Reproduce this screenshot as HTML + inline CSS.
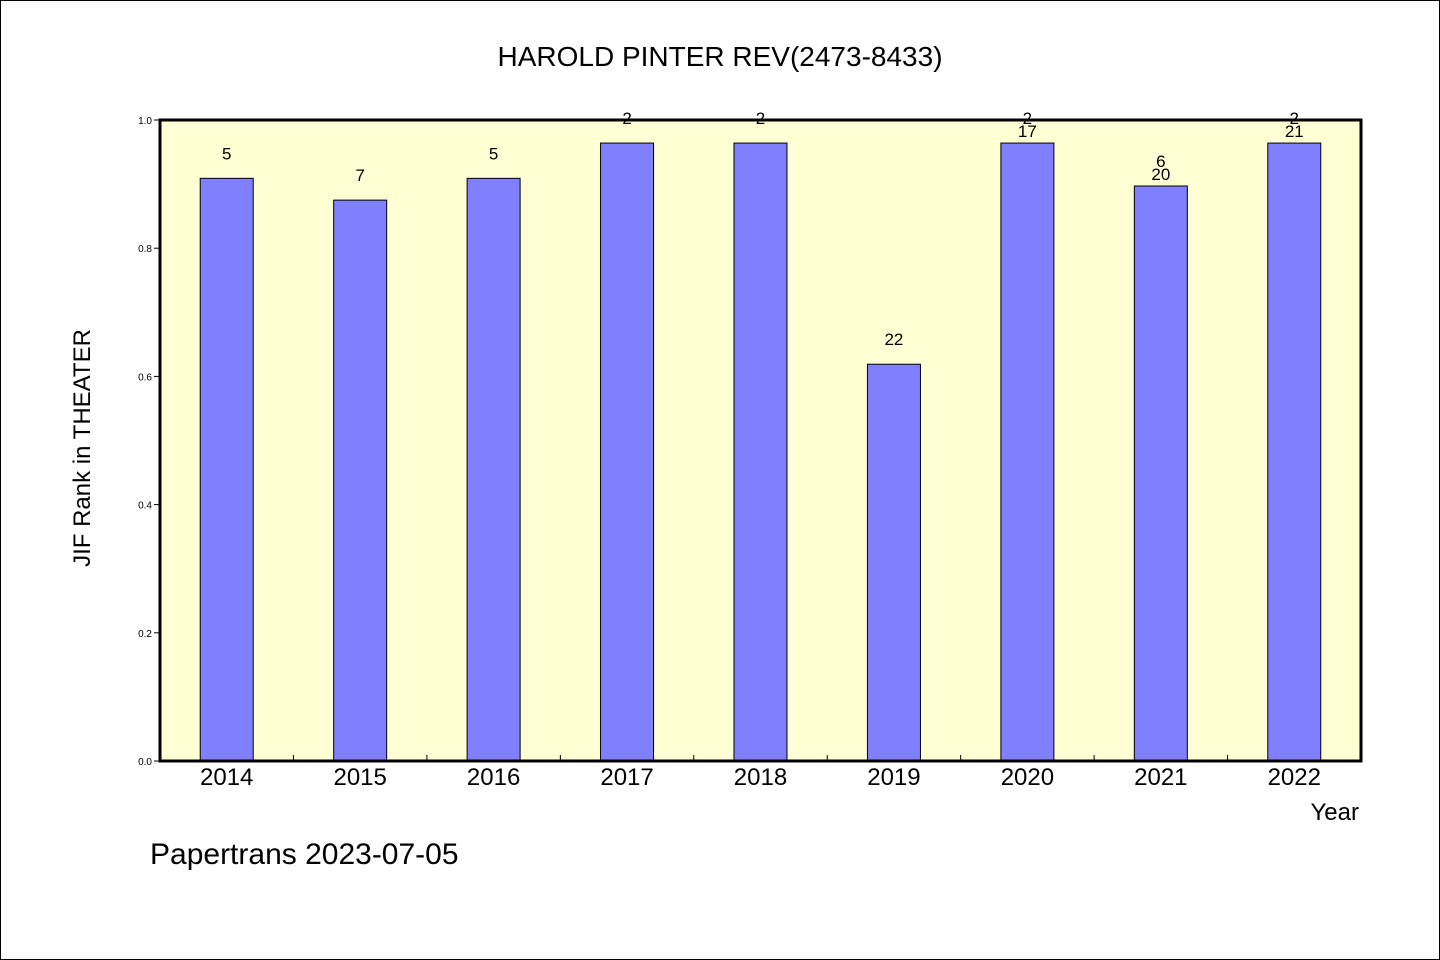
<!DOCTYPE html>
<html><head><meta charset="utf-8"><style>
body{margin:0;background:#fff}
svg{display:block;font-family:"WenQuanYi Zen Hei","Liberation Sans",sans-serif}
</style></head><body>
<svg width="1440" height="960" xmlns="http://www.w3.org/2000/svg" id="chart">
<rect x="0.5" y="0.5" width="1439" height="959" fill="#fff" stroke="#000"/>
<text x="720" y="66" text-anchor="middle" font-size="28">HAROLD PINTER REV(2473-8433)</text>
<rect x="160" y="120" width="1201" height="641" fill="#ffffd4"/>
<g id="marks"></g>
<rect x="160" y="120" width="1201" height="641" fill="none" stroke="#000" stroke-width="3"/>
<text transform="translate(90,448) rotate(-90)" text-anchor="middle" font-size="24">JIF Rank in THEATER</text>
<text x="1359" y="820" text-anchor="end" font-size="24">Year</text>
<text x="150" y="864" font-size="30">Papertrans 2023-07-05</text>
</svg>
<script>
const categories=["2014","2015","2016","2017","2018","2019","2020","2021","2022"];
const values=[0.909,0.875,0.909,0.964,0.964,0.619,0.964,0.897,0.964];
const labels1=["5","7","5","2","2","22","2","6","2"];
const labels2=["","","","","","","17","20","21"];
const yTicks=[0,0.2,0.4,0.6,0.8,1.0];
const yTickLabels=["0.0","0.2","0.4","0.6","0.8","1.0"];
const NS="http://www.w3.org/2000/svg";
const X0=160,X1=1361,Y0=761,Y1=120;
const band=(X1-X0)/categories.length;
const xs=i=>X0+band*(i+0.5);
const ys=v=>Y0-(Y0-Y1)*v;
const g=document.getElementById('marks');
function mk(t,a){const e=document.createElementNS(NS,t);for(const k in a)e.setAttribute(k,a[k]);g.appendChild(e);return e;}
yTicks.forEach((v,i)=>{
 const l=mk('line',{x1:X0-6,x2:X0,y1:ys(v),y2:ys(v),stroke:'#000'});
 
 
 const t=mk('text',{x:X0-8,y:ys(v)+4,'text-anchor':'end','font-size':10});
 t.textContent=yTickLabels[i];
 
 
});
categories.forEach((c,i)=>{
 if(i>0){const tk=mk('line',{x1:X0+band*i,x2:X0+band*i,y1:Y0,y2:Y0-6,stroke:'#000'});
 
 }
 const bw=53,top=ys(values[i]);
 const b=mk('rect',{x:xs(i)-bw/2,y:top,width:bw,height:Y0-top,fill:'#8080ff',stroke:'#000','stroke-width':1});
 
 
 const t=mk('text',{x:xs(i),y:top-19,'text-anchor':'middle','font-size':17});
 t.textContent=labels1[i];
 
 
 if(labels2[i]){const t2=mk('text',{x:xs(i),y:top-6,'text-anchor':'middle','font-size':17});
 t2.textContent=labels2[i];
 
 }
 const xl=mk('text',{x:xs(i),y:785,'text-anchor':'middle','font-size':24});
 xl.textContent=c;
 
 
});
</script>
</body></html>
